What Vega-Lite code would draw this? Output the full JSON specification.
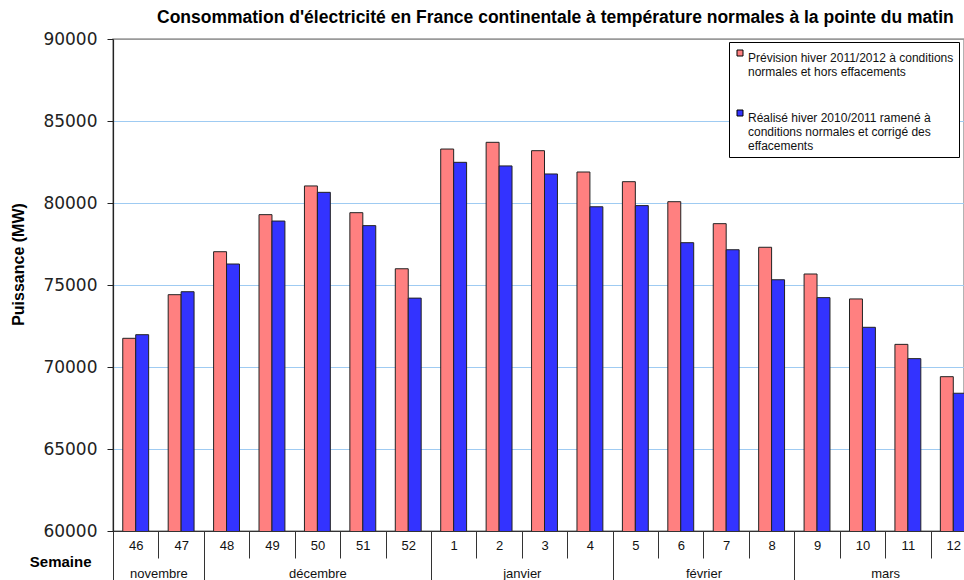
{
  "$schema": "https://vega.github.io/schema/vega-lite/v6.json",
  "autosize": "none",
  "padding": {"left": 113, "top": 39, "right": 0, "bottom": 49},
  "width": 851,
  "height": 492,
  "background": "white",
  "config": {
    "view": {"stroke": "#9a9a9a", "strokeWidth": 1.5},
    "font": "Liberation Sans"
  },
  "title": {
    "text": "Consommation d'électricité en France continentale à température normales à la pointe du matin",
    "anchor": "start",
    "frame": "group",
    "dx": 44,
    "dy": 25,
    "offset": 15,
    "baseline": "alphabetic",
    "font": "Liberation Sans",
    "fontSize": 17.5,
    "fontWeight": "bold",
    "color": "#000"
  },
  "data": {
    "values": [
      {"semaine": "46", "serie": "Prévision hiver 2011/2012 à conditions normales et hors effacements", "puissance": 71750},
      {"semaine": "46", "serie": "Réalisé hiver 2010/2011 ramené à conditions normales et corrigé des effacements", "puissance": 71970},
      {"semaine": "47", "serie": "Prévision hiver 2011/2012 à conditions normales et hors effacements", "puissance": 74410},
      {"semaine": "47", "serie": "Réalisé hiver 2010/2011 ramené à conditions normales et corrigé des effacements", "puissance": 74590},
      {"semaine": "48", "serie": "Prévision hiver 2011/2012 à conditions normales et hors effacements", "puissance": 77030},
      {"semaine": "48", "serie": "Réalisé hiver 2010/2011 ramené à conditions normales et corrigé des effacements", "puissance": 76280},
      {"semaine": "49", "serie": "Prévision hiver 2011/2012 à conditions normales et hors effacements", "puissance": 79290},
      {"semaine": "49", "serie": "Réalisé hiver 2010/2011 ramené à conditions normales et corrigé des effacements", "puissance": 78900},
      {"semaine": "50", "serie": "Prévision hiver 2011/2012 à conditions normales et hors effacements", "puissance": 81040},
      {"semaine": "50", "serie": "Réalisé hiver 2010/2011 ramené à conditions normales et corrigé des effacements", "puissance": 80650},
      {"semaine": "51", "serie": "Prévision hiver 2011/2012 à conditions normales et hors effacements", "puissance": 79410},
      {"semaine": "51", "serie": "Réalisé hiver 2010/2011 ramené à conditions normales et corrigé des effacements", "puissance": 78620},
      {"semaine": "52", "serie": "Prévision hiver 2011/2012 à conditions normales et hors effacements", "puissance": 75990},
      {"semaine": "52", "serie": "Réalisé hiver 2010/2011 ramené à conditions normales et corrigé des effacements", "puissance": 74200},
      {"semaine": "1", "serie": "Prévision hiver 2011/2012 à conditions normales et hors effacements", "puissance": 83290},
      {"semaine": "1", "serie": "Réalisé hiver 2010/2011 ramené à conditions normales et corrigé des effacements", "puissance": 82480},
      {"semaine": "2", "serie": "Prévision hiver 2011/2012 à conditions normales et hors effacements", "puissance": 83700},
      {"semaine": "2", "serie": "Réalisé hiver 2010/2011 ramené à conditions normales et corrigé des effacements", "puissance": 82260},
      {"semaine": "3", "serie": "Prévision hiver 2011/2012 à conditions normales et hors effacements", "puissance": 83190},
      {"semaine": "3", "serie": "Réalisé hiver 2010/2011 ramené à conditions normales et corrigé des effacements", "puissance": 81770},
      {"semaine": "4", "serie": "Prévision hiver 2011/2012 à conditions normales et hors effacements", "puissance": 81890},
      {"semaine": "4", "serie": "Réalisé hiver 2010/2011 ramené à conditions normales et corrigé des effacements", "puissance": 79770},
      {"semaine": "5", "serie": "Prévision hiver 2011/2012 à conditions normales et hors effacements", "puissance": 81300},
      {"semaine": "5", "serie": "Réalisé hiver 2010/2011 ramené à conditions normales et corrigé des effacements", "puissance": 79840},
      {"semaine": "6", "serie": "Prévision hiver 2011/2012 à conditions normales et hors effacements", "puissance": 80080},
      {"semaine": "6", "serie": "Réalisé hiver 2010/2011 ramené à conditions normales et corrigé des effacements", "puissance": 77580},
      {"semaine": "7", "serie": "Prévision hiver 2011/2012 à conditions normales et hors effacements", "puissance": 78740},
      {"semaine": "7", "serie": "Réalisé hiver 2010/2011 ramené à conditions normales et corrigé des effacements", "puissance": 77150},
      {"semaine": "8", "serie": "Prévision hiver 2011/2012 à conditions normales et hors effacements", "puissance": 77300},
      {"semaine": "8", "serie": "Réalisé hiver 2010/2011 ramené à conditions normales et corrigé des effacements", "puissance": 75320},
      {"semaine": "9", "serie": "Prévision hiver 2011/2012 à conditions normales et hors effacements", "puissance": 75670},
      {"semaine": "9", "serie": "Réalisé hiver 2010/2011 ramené à conditions normales et corrigé des effacements", "puissance": 74230},
      {"semaine": "10", "serie": "Prévision hiver 2011/2012 à conditions normales et hors effacements", "puissance": 74150},
      {"semaine": "10", "serie": "Réalisé hiver 2010/2011 ramené à conditions normales et corrigé des effacements", "puissance": 72420},
      {"semaine": "11", "serie": "Prévision hiver 2011/2012 à conditions normales et hors effacements", "puissance": 71380},
      {"semaine": "11", "serie": "Réalisé hiver 2010/2011 ramené à conditions normales et corrigé des effacements", "puissance": 70510},
      {"semaine": "12", "serie": "Prévision hiver 2011/2012 à conditions normales et hors effacements", "puissance": 69410},
      {"semaine": "12", "serie": "Réalisé hiver 2010/2011 ramené à conditions normales et corrigé des effacements", "puissance": 68400}
    ]
  },
  "resolve": {"scale": {"x": "independent"}, "axis": {"x": "independent"}},
  "layer": [
    {
      "mark": {"type": "bar", "clip": true, "stroke": "#222", "strokeWidth": 1},
      "encoding": {
        "x": {
          "field": "semaine", "type": "nominal",
          "scale": {"domain": ["46","47","48","49","50","51","52","1","2","3","4","5","6","7","8","9","10","11","12"], "range": [0, 863], "paddingInner": 0.43, "paddingOuter": 0.215},
          "axis": {
            "orient": "bottom", "title": "Semaine", "grid": false,
            "domainColor": "#333", "domainWidth": 1,
            "tickOffset": -22.71, "tickSize": 27, "tickColor": "#333", "tickWidth": 1,
            "labelOffset": 22.71,
            "labelAngle": 0, "labelPadding": -19, "labelFont": "Liberation Sans", "labelFontSize": 13, "labelColor": "#111",
            "titleX": -22, "titleY": 30, "titleAlign": "right", "titleBaseline": "middle",
            "titleFont": "Liberation Sans", "titleFontSize": 15, "titleFontWeight": "bold", "titleColor": "#000"
          }
        },
        "xOffset": {"field": "serie", "type": "nominal", "sort": null},
        "y": {
          "field": "puissance", "type": "quantitative",
          "scale": {"domain": [60000, 90000], "nice": false, "zero": false},
          "axis": {
            "title": "Puissance (MW)", "values": [60000, 65000, 70000, 75000, 80000, 85000, 90000],
            "format": "d", "grid": true,
            "gridColor": {"condition": {"test": "datum.value == 90000", "value": "#9a9a9a"}, "value": "#9fcbf2"},
            "gridWidth": 1,
            "domainColor": "#222", "domainWidth": 1.2,
            "tickSize": 6, "tickColor": "#222",
            "labelPadding": 10, "labelFont": "DejaVu Sans", "labelFontSize": 17, "labelColor": "#222",
            "titleX": -95, "titleY": 225, "titleAngle": -90, "titleAlign": "center", "titleBaseline": "middle",
            "titleFont": "Liberation Sans", "titleFontSize": 16, "titleFontWeight": "bold", "titleColor": "#000"
          }
        },
        "color": {
          "field": "serie", "type": "nominal",
          "scale": {"domain": ["Prévision hiver 2011/2012 à conditions normales et hors effacements", "Réalisé hiver 2010/2011 ramené à conditions normales et corrigé des effacements"], "range": ["#ff8080", "#3333ff"]},
          "legend": {
            "orient": "none", "legendX": 616, "legendY": 3, "title": null,
            "strokeColor": "#000", "fillColor": "#fff", "padding": 5,
            "symbolType": "square", "symbolSize": 36, "symbolStrokeColor": "#000", "symbolStrokeWidth": 1,
            "labelOffset": 2,
            "labelFont": "Liberation Sans", "labelFontSize": 12, "labelColor": "#111", "labelLimit": 400,
            "labelBaseline": "top", "rowPadding": 29,
            "labelExpr": "datum.label[0] == 'P' ? ['Prévision hiver 2011/2012 à conditions', 'normales et hors effacements'] : ['Réalisé hiver 2010/2011 ramené à', 'conditions normales et corrigé des', 'effacements']"
          }
        }
      }
    },
    {
      "mark": {"type": "point", "opacity": 0},
      "encoding": {
        "x": {
          "field": "semaine", "type": "nominal",
          "scale": {"domain": ["46","47","48","49","50","51","52","1","2","3","4","5","6","7","8","9","10","11","12"], "range": [0, 863], "paddingInner": 0.43, "paddingOuter": 0.215},
          "axis": {
            "orient": "bottom", "title": null, "grid": false, "domain": false, "labels": false,
            "values": ["46", "48", "1", "5", "9"],
            "tickOffset": -22.71, "tickSize": 49, "tickColor": "#333", "tickWidth": 1
          }
        }
      }
    },
    {
      "mark": {"type": "point", "opacity": 0},
      "encoding": {
        "x": {
          "field": "semaine", "type": "nominal",
          "scale": {"domain": ["46","47","48","49","50","51","52","1","2","3","4","5","6","7","8","9","10","11","12"], "range": [0, 863], "paddingInner": 0.43, "paddingOuter": 0.215},
          "axis": {
            "orient": "bottom", "title": null, "grid": false, "domain": false, "ticks": false, "tickSize": 0,
            "values": ["47", "50", "3", "7", "11"],
            "labelExpr": "{'47': 'novembre', '50': 'décembre', '3': 'janvier', '7': 'février', '11': 'mars'}[datum.label]",
            "labelOffset": {"condition": {"test": "datum.value == '50'", "value": 0}, "value": -22.71},
            "labelAngle": 0, "labelPadding": 36, "labelFont": "Liberation Sans", "labelFontSize": 13, "labelColor": "#111"
          }
        }
      }
    }
  ]
}
